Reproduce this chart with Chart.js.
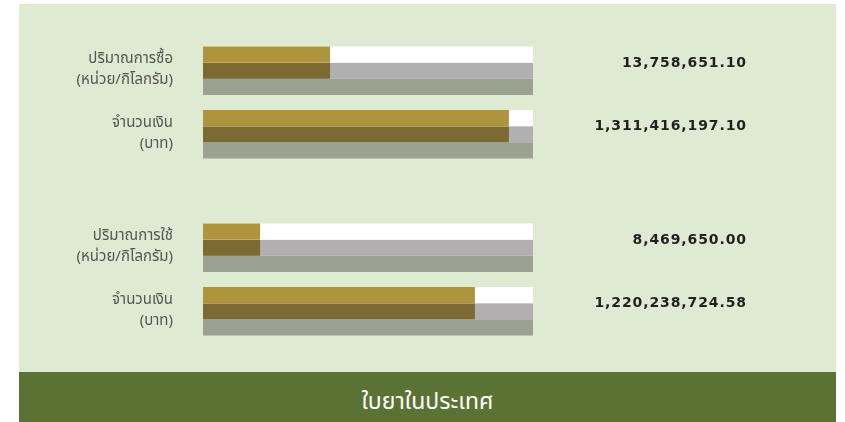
<!DOCTYPE html>
<html>
<head>
<meta charset="utf-8">
<script src="https://cdn.jsdelivr.net/npm/chart.js@4/dist/chart.umd.min.js"></script>
<style>
  body { margin: 0; width: 845px; height: 422px; background: #fff; position: relative; overflow: hidden; }
  #panel { position: absolute; left: 19px; top: 4px; width: 817px; height: 368px; background: #dfead3; }
  #footer { position: absolute; left: 19px; top: 372px; width: 817px; height: 50px; background: #5a7234;
    color: #fff; font-family: "Noto Sans Thai", "Noto Sans Thai Looped", "Loma", "Garuda", sans-serif; font-size: 23px;
    text-align: center; line-height: 60px; }
  canvas { position: absolute; left: 0; }
</style>
</head>
<body>
<div id="panel"></div>
<div id="footer">ใบยาในประเทศ</div>
<canvas id="grafikSubo" width="845" height="180" style="top:0px"></canvas>
<canvas id="grafikChai" width="845" height="180" style="top:177px"></canvas>
<script>
// Data ซื้อ
const purchaseLabels = [["ปริมาณการซื้อ", "(หน่วย/กิโลกรัม)"], ["จำนวนเงิน", "(บาท)"]];
const purchaseShare = [38.5, 92.7];
const purchaseTotals = [13758651.10, 1311416197.10];

// Data ใช้
const useLabels = [["ปริมาณการใช้", "(หน่วย/กิโลกรัม)"], ["จำนวนเงิน", "(บาท)"]];
const useShare = [17.3, 82.4];
const useTotals = [8469650.00, 1220238724.58];

const fullScale = [100, 100];

const thaiFont = '"Noto Sans Thai", "Noto Sans Thai Looped", "Loma", "Garuda", sans-serif';

function formatAngka(n) {
  return n.toLocaleString("en-US", { minimumFractionDigits: 2, maximumFractionDigits: 2 });
}

// Plugin angka di kanan
const totalsPlugin = {
  id: "totals",
  afterDatasetsDraw(chart, args, opts) {
    const { ctx } = chart;
    const meta = chart.getDatasetMeta(0);
    ctx.save();
    ctx.font = "bold 14px 'DejaVu Sans', sans-serif";
    ctx.letterSpacing = "0.9px";
    ctx.fillStyle = "#231f20";
    ctx.textAlign = "right";
    ctx.textBaseline = "middle";
    meta.data.forEach((bar, i) => {
      const y = bar.y + bar.height / 2;
      ctx.fillText(formatAngka(opts.values[i]), 747, y + 0.5);
    });
    ctx.restore();
  }
};

function buatGrafik(id, labels, share, totals) {
  const ctx = document.getElementById(id).getContext("2d");
  return new Chart(ctx, {
    type: "bar",
    data: {
      labels,
      datasets: [
        { data: share, stack: "a", backgroundColor: "#ae943d" },
        { data: fullScale, stack: "a", backgroundColor: "#ffffff" },
        { data: share, stack: "b", backgroundColor: "#7d6a33" },
        { data: fullScale, stack: "b", backgroundColor: "#b1afb0" },
        { data: fullScale, stack: "c", backgroundColor: "#9ca291" }
      ]
    },
    options: {
      indexAxis: "y",
      responsive: false,
      animation: false,
      categoryPercentage: 0.76,
      barPercentage: 1,
      layout: { padding: { top: 39, bottom: 14, left: 0, right: 312 } },
      scales: {
        x: { stacked: false, min: 0, max: 100, display: false },
        y: {
          grid: { display: false, drawTicks: false },
          border: { display: false },
          ticks: { color: "#555555", padding: 30, font: { family: thaiFont, size: 15, lineHeight: 1.42 } },
          afterFit: (scale) => {
            scale.width = 203;
            scale.paddingTop = 0;
            scale.paddingBottom = 0;
          }
        }
      },
      plugins: {
        legend: { display: false },
        tooltip: { enabled: false },
        totals: { values: totals }
      }
    },
    plugins: [totalsPlugin]
  });
}

window.onload = () => {
  buatGrafik("grafikSubo", purchaseLabels, purchaseShare, purchaseTotals);
  buatGrafik("grafikChai", useLabels, useShare, useTotals);
};
</script>
</body>
</html>
